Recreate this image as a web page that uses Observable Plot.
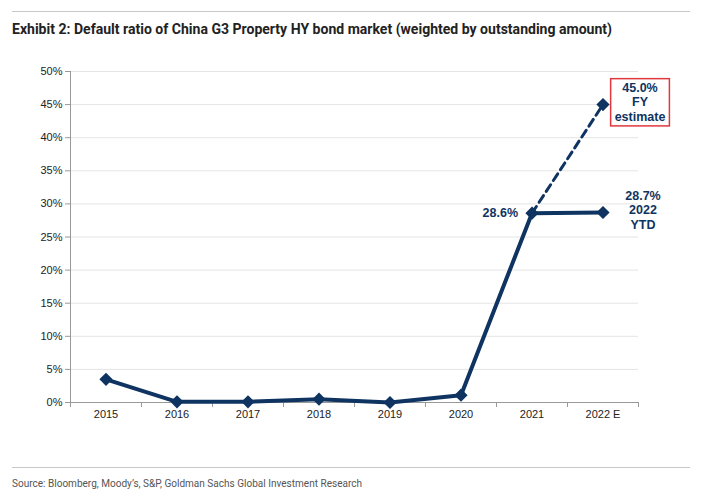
<!DOCTYPE html>
<html>
<head>
<meta charset="utf-8">
<script src="https://cdn.jsdelivr.net/npm/d3@7"></script>
<script src="https://cdn.jsdelivr.net/npm/@observablehq/plot@0.6"></script>
<style>
  html, body { margin: 0; padding: 0; background: #fff; }
  #wrap { position: relative; width: 703px; height: 497px; overflow: hidden; }
  .rule { position: absolute; left: 12px; width: 678px; height: 0; border-top: 1.5px solid #c8c8c8; }
  .fit { position: absolute; left: 12px; white-space: nowrap; transform-origin: 0 0; font-family: "Liberation Sans Narrow", "Roboto", "Liberation Sans", sans-serif; }
  #title { top: 20px; font-weight: bold; font-size: 15px; color: #222; }
  #source { top: 476px; font-size: 11.5px; color: #555; }
  #chart { position: absolute; left: 0; top: 0; }
</style>
</head>
<body>
<div id="wrap">
  <div class="rule" style="top:11px"></div>
  <div id="title" class="fit" data-w="600">Exhibit 2: Default ratio of China G3 Property HY bond market (weighted by outstanding amount)</div>
  <div id="chart"></div>
  <div class="rule" style="top:467px"></div>
  <div id="source" class="fit" data-w="350">Source: Bloomberg, Moody’s, S&amp;P, Goldman Sachs Global Investment Research</div>
</div>
<script>
// ---- data ----
const categories = ["2015", "2016", "2017", "2018", "2019", "2020", "2021", "2022 E"];
const ytdValues = [3.5, 0.1, 0.1, 0.5, 0.0, 1.1, 28.6, 28.7];
const estimateCategories = ["2021", "2022 E"];
const estimateValues = [28.6, 45.0];
const yTicks = [0, 5, 10, 15, 20, 25, 30, 35, 40, 45, 50];

const navy = "#0f3461";
const ytd = categories.map((c, i) => ({i, c, v: ytdValues[i]}));
const est = estimateCategories.map((c, k) => ({i: categories.indexOf(c), c, v: estimateValues[k]}));
const catIdx = categories.map((c, i) => i);
const boundaries = d3.range(-0.5, categories.length, 1);

const labelFont = "'Liberation Sans', Arial, sans-serif";

const plot = Plot.plot({
  width: 703,
  height: 497,
  marginLeft: 70,
  marginRight: 65,
  marginTop: 71,
  marginBottom: 95,
  style: {fontFamily: labelFont, fontSize: "11px", color: "#222", background: "transparent"},
  x: {type: "linear", domain: [-0.5, categories.length - 0.5]},
  y: {domain: [0, 50]},
  marks: [
    Plot.gridY(yTicks, {stroke: "#e4e4e4", strokeOpacity: 1, strokeWidth: 1}),
    Plot.axisY({ticks: yTicks, tickFormat: d => d + "%", tickSize: 5, tickPadding: 3, stroke: "#999", fill: "#222", fontSize: 11, label: null}),
    Plot.axisX({ticks: boundaries, tickSize: 5, tickFormat: () => "", stroke: "#999", label: null}),
    Plot.axisX({ticks: catIdx, tickSize: 0, tickPadding: 8, tickFormat: i => categories[i], fill: "#222", fontSize: 11, label: null}),
    Plot.ruleX([-0.5], {stroke: "#999", strokeWidth: 1}),
    Plot.ruleY([0], {stroke: "#999", strokeWidth: 1}),
    Plot.line(est, {x: "i", y: "v", stroke: navy, strokeWidth: 3, strokeDasharray: "8,5"}),
    Plot.line(ytd, {x: "i", y: "v", stroke: navy, strokeWidth: 4}),
    Plot.dot(ytd, {x: "i", y: "v", symbol: "diamond2", r: 5, fill: navy, stroke: navy}),
    Plot.dot(est.slice(1), {x: "i", y: "v", symbol: "diamond2", r: 5, fill: navy, stroke: navy}),
    Plot.text([ytd[6]], {x: "i", y: "v", text: d => d.v.toFixed(1) + "%", textAnchor: "end", dx: -14, dy: 0, fill: navy, fontWeight: "bold", fontSize: 12.5, fontFamily: labelFont}),
    Plot.text([ytd[7]], {x: "i", y: "v", text: d => d.v.toFixed(1) + "%\n2022\nYTD", textAnchor: "middle", lineAnchor: "middle", lineHeight: 1.17, dx: 40, dy: -3, fill: navy, fontWeight: "bold", fontSize: 12.5, fontFamily: labelFont}),
    Plot.text([est[1]], {x: "i", y: "v", text: d => d.v.toFixed(1) + "%\nFY\nestimate", textAnchor: "middle", lineAnchor: "middle", lineHeight: 1.17, dx: 37, dy: -3, fill: navy, fontWeight: "bold", fontSize: 12.5, fontFamily: labelFont, className: "fy-label"})
  ]
});

document.getElementById("chart").appendChild(plot);

// red box around the FY estimate label, sized from the label itself
d3.select(plot).select("g.fy-label").selectAll("text").each(function() {
  const b = this.getBBox();
  d3.select(this.parentNode).insert("rect", () => this)
    .attr("transform", this.getAttribute("transform"))
    .attr("x", b.x - 4).attr("y", b.y - 2)
    .attr("width", b.width + 8).attr("height", b.height + 4)
    .attr("fill", "#fff").attr("stroke", "#e0383c").attr("stroke-width", 1.5);
});

// condensed look for title and source: squeeze to the reference widths
document.querySelectorAll(".fit").forEach(el => {
  const w = el.getBoundingClientRect().width;
  const target = +el.dataset.w;
  if (w > 0) el.style.transform = `scaleX(${target / w})`;
});
</script>
</body>
</html>
